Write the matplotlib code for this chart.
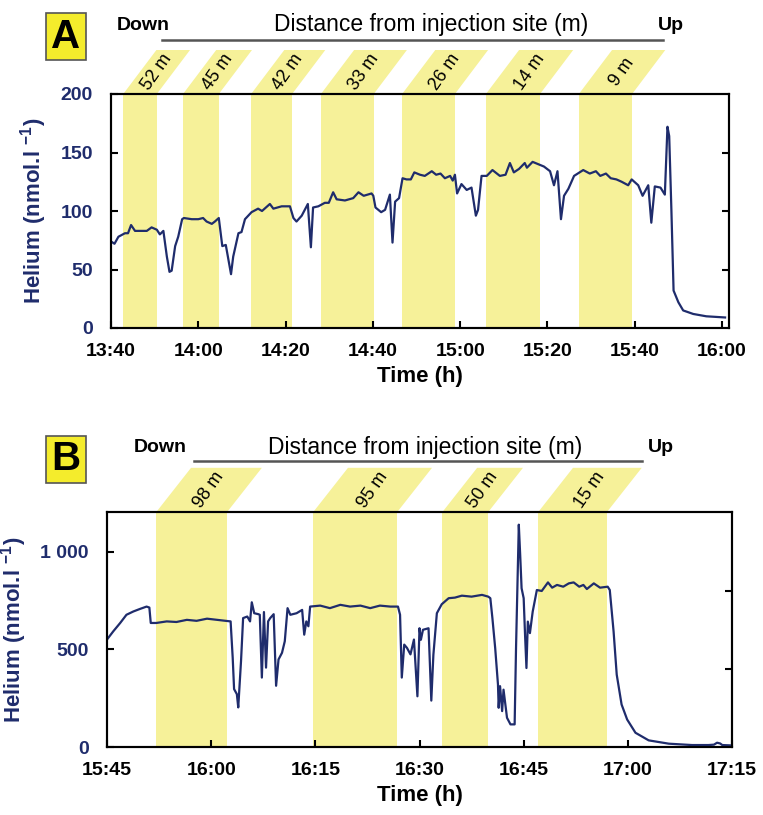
import matplotlib
matplotlib.use('Agg')
import matplotlib.pyplot as plt
import matplotlib.transforms as mtrans
from matplotlib.patches import Polygon, Rectangle
from matplotlib.lines import Line2D

plt.rcParams['font.family'] = ['Liberation Sans', 'DejaVu Sans']
plt.rcParams['mathtext.fontset'] = 'custom'
plt.rcParams['mathtext.rm'] = 'Liberation Sans'
plt.rcParams['mathtext.bf'] = 'Liberation Sans:bold'

# ---- data: panel A (minutes after 13:40, nmol/l) ----
ta = [0.0, 0.8, 1.7, 3.2, 3.9, 4.6, 5.5, 7.0, 8.2, 9.3, 10.5, 11.2, 12.0, 12.8,
      13.4, 13.9, 14.7, 15.4, 16.3, 16.7, 18.5, 20.0, 21.1, 21.9, 23.1, 23.8,
      24.7, 25.5, 26.3, 27.5, 28.0, 29.2, 29.9, 30.7, 32.2, 33.7, 34.6, 36.4,
      37.2, 39.1, 41.0, 41.8, 42.5, 43.7, 45.1, 45.8, 46.3, 47.5, 49.0, 49.9,
      50.9, 51.7, 53.6, 55.5, 56.7, 57.9, 59.7, 60.1, 60.6, 61.9, 62.8, 63.9,
      64.5, 65.1, 66.0, 66.8, 67.7, 68.7, 69.5, 70.8, 71.9, 73.5, 74.5, 75.5,
      76.5, 77.7, 78.3, 78.8, 79.3, 80.3, 81.5, 82.6, 83.6, 84.1, 84.9, 86.1,
      87.4, 89.1, 90.4, 91.4, 92.3, 93.5, 94.8, 95.3, 96.6, 97.9, 99.2, 100.6,
      101.5, 102.3, 103.1, 103.8, 104.8, 106.1, 108.2, 109.7, 111.1, 112.1,
      113.4, 114.5, 115.8, 117.0, 118.5, 119.3, 120.8, 121.8, 123.1, 123.8,
      124.6, 125.9, 126.9, 127.5, 127.9, 128.4, 128.9, 130.0, 131.1, 133.4,
      136.4, 140.7]
ha = [74, 72, 78, 81, 81, 88, 83, 83, 83, 86, 84, 80, 83, 61,
      48, 49, 70, 78, 93, 94, 93, 93, 94, 91, 89, 91,
      94, 70, 71, 46, 61, 81, 82, 93, 99, 102, 100, 106,
      102, 104, 104, 94, 91, 96, 106, 69, 103, 104, 107, 107,
      116, 110, 109, 111, 116, 113, 115, 113, 103, 99, 101, 114,
      73, 108, 111, 128, 127, 127, 133, 131, 130, 134, 131, 132,
      128, 130, 126, 131, 115, 123, 118, 120, 96, 101, 130, 130,
      135, 130, 131, 141, 133, 136, 141, 137, 142, 140, 138, 134,
      122, 134, 93, 113, 119, 130, 135, 132, 134, 130,
      132, 128, 127, 125, 122, 127, 122, 113, 122, 90,
      121, 120, 114, 172, 164, 101, 32, 22, 15, 12,
      10, 9]
bands_a = [(2.8, 10.5), (16.5, 24.7), (32.1, 41.5), (48.1, 60.2),
           (66.7, 78.8), (85.9, 98.3), (107.2, 119.4)]
labels_a = ['52 m', '45 m', '42 m', '33 m', '26 m', '14 m', '9 m']
xt_a = [0, 20, 40, 60, 80, 100, 120, 140]
xtl_a = ['13:40', '14:00', '14:20', '14:40', '15:00', '15:20', '15:40', '16:00']
yt_a = [0, 50, 100, 150, 200]
ytl_a = ['0', '50', '100', '150', '200']

# ---- data: panel B (minutes after 15:45, nmol/l) ----
tb = [0, 0.9, 1.9, 2.8, 3.8, 4.75, 5.7, 6.1, 6.3, 7.1, 8.6, 10.0, 11.5, 12.9,
      14.4, 15.8, 17.0, 17.8, 18.1, 18.3, 18.7, 18.9, 19.3, 19.6, 20.2, 20.6,
      20.85, 21.2, 21.8, 22.0, 22.3, 22.6, 22.9, 23.2, 23.5, 24.0, 24.35, 24.7,
      25.2, 25.6, 26.0, 26.4, 27.3, 28.1, 28.4, 28.7, 29.0, 29.25, 30.7, 32.1,
      33.6, 35.0, 36.5, 37.9, 39.3, 40.8, 41.9, 42.2, 42.45, 42.8, 43.2, 43.7,
      44.2, 44.7, 45.0, 45.2, 45.5, 46.3, 46.7, 47.0, 47.5, 48.2, 49.2, 50.1,
      51.1, 52.5, 54.0, 54.9, 55.2, 55.5, 55.9, 56.3, 56.4, 56.6, 56.9, 57.1,
      57.6, 58.1, 58.7, 58.9, 59.3, 59.5, 59.7, 60.0, 60.2, 60.4, 60.6, 60.9,
      61.3, 61.9, 62.6, 63.5, 64.1, 64.8, 65.7, 66.5, 67.2, 68.0, 68.6, 69.1,
      70.1, 71.0, 72.1, 72.4, 72.95, 73.4, 74.1, 74.9, 76.1, 78.0, 80.9, 84.25,
      86.6, 87.4, 87.85, 88.3, 88.6, 90]
hb = [551, 593, 636, 678, 695, 708, 720, 715, 636, 636, 644, 641, 652, 647,
      658, 652, 647, 644, 458, 297, 271, 203, 441, 661, 669, 644,
      742, 686, 681, 678, 356, 692, 407, 644, 661, 681, 314, 449,
      483, 542, 712, 678, 686, 703, 576, 644, 619, 720, 725, 712,
      729, 720, 725, 712, 725, 720, 720, 678, 356, 525, 508, 475,
      551, 260, 609, 550, 601, 609, 238, 473, 686, 732, 763, 766,
      776, 771, 780, 771, 763, 660, 507, 320, 201, 312, 184, 294,
      150, 116, 116, 507, 1140, 984, 814, 763, 575, 405, 643, 584,
      694, 805, 800, 844, 817, 831, 822, 839, 844, 822, 831, 810,
      839, 817, 822, 805, 592, 371, 218, 141, 73, 34, 17, 10,
      10, 12, 22, 18, 10, 8]
bands_b = [(7.1, 17.3), (29.7, 41.8), (48.3, 54.9), (62.1, 72.0)]
labels_b = ['98 m', '95 m', '50 m', '15 m']
xt_b = [0, 15, 30, 45, 60, 75, 90]
xtl_b = ['15:45', '16:00', '16:15', '16:30', '16:45', '17:00', '17:15']
yt_b = [0, 500, 1000]
ytl_b = ['0', '500', '1 000']

navy = '#1f2c6c'
band_col = '#f6f199'
W, H = 763, 815

fig = plt.figure(figsize=(W / 100, H / 100), dpi=100)


def fx(x):
    return x / W


def fy(y):
    return 1 - y / H


def panel(rect, t, h, bands, labels, xt, xtl, yt, ytl, xlim, ylim, shift, rticks):
    ax = fig.add_axes(rect)
    tr = mtrans.blended_transform_factory(ax.transData, ax.transAxes)
    hf = 0.188
    for (a, b), lab in zip(bands, labels):
        ax.axvspan(a, b, color=band_col, lw=0, zorder=0)
        poly = Polygon([(a, 1), (b, 1), (b + shift, 1 + hf), (a + shift, 1 + hf)],
                       closed=True, transform=tr, clip_on=False,
                       facecolor=band_col, edgecolor='none', zorder=0)
        ax.add_patch(poly)
        ax.text((a + b) / 2 + shift / 2, 1 + hf / 2, lab, transform=tr,
                rotation=55, ha='center', va='center', rotation_mode='anchor',
                fontsize=13, color='black')
    ax.plot(t, h, color=navy, lw=1.6, zorder=3)
    ax.set_xlim(*xlim)
    ax.set_ylim(*ylim)
    ax.set_xticks(xt)
    ax.set_xticklabels(xtl, fontsize=14, fontweight='bold')
    ax.set_yticks(yt)
    ax.set_yticklabels(ytl, fontsize=14, fontweight='bold', color=navy)
    ax.tick_params(direction='in', length=5, width=1.5, pad=11)
    ax.tick_params(axis='y', pad=13)
    for s in ax.spines.values():
        s.set_linewidth(1.5)
    ax.set_xlabel('Time (h)', fontsize=16, fontweight='bold', labelpad=4)
    ax.set_ylabel(r'Helium (nmol.l $^{\mathbf{-1}}$)', fontsize=16,
                  fontweight='bold', color=navy, labelpad=8)
    tw = ax.twinx()
    tw.set_ylim(*ylim)
    tw.set_yticks(rticks)
    tw.set_yticklabels([])
    tw.tick_params(direction='in', length=5, width=1.5)
    for s in tw.spines.values():
        s.set_linewidth(1.5)
    return ax


axa = panel([fx(111), fy(328), fx(729) - fx(111), fy(94) - fy(328)],
            ta, ha, bands_a, labels_a, xt_a, xtl_a, yt_a, ytl_a,
            (0, 141.6), (0, 200), 7.6, [50, 100, 150])
axb = panel([fx(107), fy(747), fx(732) - fx(107), fy(512) - fy(747)],
            tb, hb, bands_b, labels_b, xt_b, xtl_b, yt_b, ytl_b,
            (0, 90), (0, 1205), 5.0, [400, 800])


def header(letter, box_y0, box_y1, ty, line_x0, line_x1, line_y, down_x, mid_x, up_x):
    fig.add_artist(Rectangle((fx(46), fy(box_y1)), fx(86) - fx(46),
                             fy(box_y0) - fy(box_y1), transform=fig.transFigure,
                             facecolor='#f4ec2c', edgecolor='#555555', lw=1.2))
    fig.text(fx(66), fy((box_y0 + box_y1) / 2), letter, ha='center', va='center',
             fontsize=29, fontweight='bold')
    fig.text(fx(down_x), fy(ty), 'Down', ha='left', va='center',
             fontsize=14, fontweight='bold')
    fig.text(fx(mid_x), fy(ty), 'Distance from injection site (m)', ha='center',
             va='center', fontsize=16.5)
    fig.text(fx(up_x), fy(ty), 'Up', ha='left', va='center',
             fontsize=14, fontweight='bold')
    fig.add_artist(Line2D([fx(line_x0), fx(line_x1)], [fy(line_y), fy(line_y)],
                          transform=fig.transFigure, color='#555555', lw=1.8))


header('A', 13, 60, 25, 162, 663, 40, 117, 431, 658)
header('B', 436, 483, 447, 194, 642, 461, 134, 425, 648)

fig.savefig('out.png', dpi=100)
